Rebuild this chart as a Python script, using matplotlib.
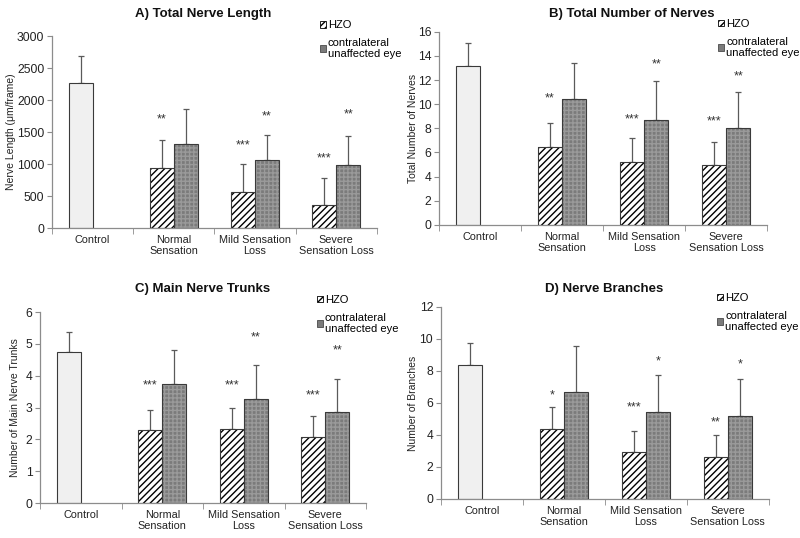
import numpy as np
import matplotlib
matplotlib.use("Agg")
import matplotlib.pyplot as plt
from matplotlib.patches import Patch

plt.rcParams['font.family'] = ['Liberation Sans', 'DejaVu Sans']
plt.rcParams['hatch.linewidth'] = 1.0

categories = ["Control", "Normal\nSensation", "Mild Sensation\nLoss", "Severe\nSensation Loss"]

# panel A: total nerve length
a_hzo = [2260, 940, 560, 360]
a_hzo_top = [2690, 1370, 1000, 790]
a_con = [np.nan, 1320, 1060, 990]
a_con_top = [np.nan, 1860, 1450, 1440]
a_stars_hzo = ["", "**", "***", "***"]
a_stars_con = ["", "", "**", "**"]
a_star_y_hzo = [0, 1700, 1290, 1090]
a_star_y_con = [0, 0, 1740, 1770]

# panel B: total number of nerves
b_hzo = [13.2, 6.45, 5.2, 5.0]
b_hzo_top = [15.1, 8.4, 7.2, 6.9]
b_con = [np.nan, 10.45, 8.7, 8.0]
b_con_top = [np.nan, 13.4, 11.9, 11.0]
b_stars_hzo = ["", "**", "***", "***"]
b_stars_con = ["", "", "**", "**"]
b_star_y_hzo = [0, 10.5, 8.7, 8.6]
b_star_y_con = [0, 0, 13.3, 12.3]

# panel C: main nerve trunks
c_hzo = [4.75, 2.3, 2.33, 2.08]
c_hzo_top = [5.37, 2.93, 2.98, 2.72]
c_con = [np.nan, 3.75, 3.28, 2.85]
c_con_top = [np.nan, 4.8, 4.35, 3.9]
c_stars_hzo = ["", "***", "***", "***"]
c_stars_con = ["", "", "**", "**"]
c_star_y_hzo = [0, 3.7, 3.7, 3.38]
c_star_y_con = [0, 0, 5.2, 4.8]

# panel D: nerve branches
d_hzo = [8.4, 4.38, 2.92, 2.62]
d_hzo_top = [9.75, 5.75, 4.25, 4.0]
d_con = [np.nan, 6.7, 5.42, 5.18]
d_con_top = [np.nan, 9.55, 7.75, 7.5]
d_stars_hzo = ["", "*", "***", "**"]
d_stars_con = ["", "", "*", "*"]
d_star_y_hzo = [0, 6.5, 5.7, 4.8]
d_star_y_con = [0, 0, 8.6, 8.4]

panels = [
    ("A) Total Nerve Length", "Nerve Length (μm/frame)", 3000, 500,
     a_hzo, a_hzo_top, a_con, a_con_top, a_stars_hzo, a_stars_con, a_star_y_hzo, a_star_y_con,
     [0.065, 0.576, 0.406, 0.357], (0.465, 1.115), (0.825, 1.083), -0.111),
    ("B) Total Number of Nerves", "Total Number of Nerves", 16, 2,
     b_hzo, b_hzo_top, b_con, b_con_top, b_stars_hzo, b_stars_con, b_star_y_hzo, b_star_y_con,
     [0.549, 0.582, 0.410, 0.359], (0.588, 1.094), (0.851, 1.067), -0.064),
    ("C) Main Nerve Trunks", "Number of Main Nerve Trunks", 6, 1,
     c_hzo, c_hzo_top, c_con, c_con_top, c_stars_hzo, c_stars_con, c_star_y_hzo, c_star_y_con,
     [0.050, 0.065, 0.4075, 0.355], (0.5, 1.121), (0.85, 1.089), -0.061),
    ("D) Nerve Branches", "Number of Branches", 12, 2,
     d_hzo, d_hzo_top, d_con, d_con_top, d_stars_hzo, d_stars_con, d_star_y_hzo, d_star_y_con,
     [0.551, 0.0725, 0.410, 0.357], (0.497, 1.094), (0.843, 1.073), -0.070),
]

EDGE = "#3a3a3a"
AXC = "#8c8c8c"
w = 0.295

fig = plt.figure(figsize=(8.0, 5.38), dpi=100)
for (title, ylabel, ymax, ystep, hzo, hzo_top, con, con_top,
     s_h, s_c, sy_h, sy_c, rect, tpos, lpos, ylx) in panels:
    ax = fig.add_axes(rect)
    x = np.arange(len(categories))
    hzo = np.array(hzo, float); con = np.array(con, float)
    eh = np.array(hzo_top, float) - hzo
    ec = np.array(con_top, float) - con
    xh = x - w / 2
    xc = x + w / 2
    # control bar (plain light gray)
    ax.bar(xh[0], hzo[0], w, color="#f0f0f0", edgecolor=EDGE, linewidth=0.8, zorder=2)
    # HZO bars (white with diagonal hatch)
    ax.bar(xh[1:], hzo[1:], w, color="white", edgecolor="black", hatch="/////",
           linewidth=0, zorder=2)
    ax.bar(xh[1:], hzo[1:], w, fill=False, edgecolor=EDGE, linewidth=0.8, zorder=3)
    # contralateral bars (dark gray with fine grid)
    ax.bar(xc[1:], con[1:], w, color="#7b7b7b", edgecolor="#9a9a9a", hatch="++++",
           linewidth=0, zorder=2)
    ax.bar(xc[1:], con[1:], w, fill=False, edgecolor=EDGE, linewidth=0.8, zorder=3)
    ax.errorbar(xh, hzo, yerr=[np.zeros_like(eh), eh], fmt="none", ecolor="#5a5a5a",
                elinewidth=0.9, capsize=2.5, capthick=0.9, zorder=1)
    ax.errorbar(xc[1:], con[1:], yerr=[np.zeros(3), ec[1:]], fmt="none", ecolor="#5a5a5a",
                elinewidth=0.9, capsize=2.5, capthick=0.9, zorder=1)
    for i in range(len(categories)):
        if s_h[i]:
            ax.text(xh[i], sy_h[i], s_h[i], ha="center", va="center", fontsize=9, color="#333333")
        if s_c[i]:
            ax.text(xc[i], sy_c[i], s_c[i], ha="center", va="center", fontsize=9, color="#333333")

    ax.set_xlim(-0.5, 3.5)
    ax.set_ylim(0, ymax)
    ax.set_yticks(np.arange(0, ymax + ystep / 2, ystep))
    ax.set_xticks(x)
    ax.set_xticklabels(categories, fontsize=7.8, color="#222222", linespacing=1.1)
    ax.set_xticks(np.arange(-0.5, 3.6, 1.0), minor=True)
    ax.tick_params(axis="x", which="major", length=0, pad=5)
    ax.tick_params(axis="x", which="minor", length=4, color=AXC, direction="out")
    ax.tick_params(axis="y", length=3.5, pad=2, color=AXC, labelsize=8.7, labelcolor="#222222")
    for s in ["top", "right"]:
        ax.spines[s].set_visible(False)
    for s in ["left", "bottom"]:
        ax.spines[s].set_color(AXC)
        ax.spines[s].set_linewidth(0.9)
    ax.set_ylabel(ylabel, fontsize=7.5, color="#222222")
    ax.yaxis.set_label_coords(ylx, 0.5)
    ax.text(tpos[0], tpos[1], title, transform=ax.transAxes, ha="center", va="center",
            fontsize=9.5, fontweight="bold", color="#111111")

    handles = [Patch(facecolor="white", edgecolor="black", hatch="/////", linewidth=0.6),
               Patch(facecolor="#7b7b7b", edgecolor="#4a4a4a", linewidth=0.6)]
    ax.legend(handles, ["HZO", "contralateral\nunaffected eye"], loc="upper left",
              bbox_to_anchor=lpos, frameon=False, fontsize=8,
              handlelength=0.55, handleheight=0.55, handletextpad=0.15,
              labelspacing=0.7, borderaxespad=0, borderpad=0)

fig.savefig("out.png", dpi=100)
